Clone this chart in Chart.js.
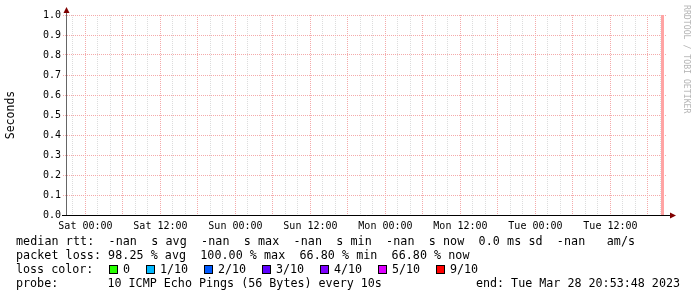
<!DOCTYPE html>
<html>
<head>
<meta charset="utf-8">
<script src="https://cdn.jsdelivr.net/npm/chart.js@4.4.0/dist/chart.umd.min.js"></script>
<style>
    body { margin: 0; background: #fff; }
    #wrap { position: relative; width: 697px; height: 297px; overflow: hidden; font-family: "DejaVu Sans Mono", monospace; color: #000; }
    #chart { position: absolute; left: 0; top: 0; }
    .line { position: absolute; left: 16px; font-size: 11.7px; line-height: 14px; white-space: pre; }
    .box { position: absolute; top: 265px; width: 9px; height: 9px; border: 1px solid #000; box-sizing: border-box; }
    .lbl { position: absolute; top: 262px; font-size: 11.7px; line-height: 14px; white-space: pre; }
    #end { position: absolute; right: 17px; top: 276px; font-size: 11.7px; line-height: 14px; white-space: pre; }
    #mark { position: absolute; left: 692px; top: 5px; font-size: 8.2px; line-height: 10px; color: #b4b4b4; white-space: pre; transform-origin: 0 0; transform: rotate(90deg); }
</style>
</head>
<body>
<div id="wrap">
    <canvas id="chart" width="697" height="297"></canvas>
    <div class="line" style="top:234px; letter-spacing:0.08px">median rtt:  -nan  s avg  -nan  s max  -nan  s min  -nan  s now  0.0 ms sd  -nan   am/s</div>
    <div class="line" style="top:248px; letter-spacing:0.05px">packet loss: 98.25 % avg  100.00 % max  66.80 % min  66.80 % now</div>
    <div class="line" style="top:262px">loss color:</div>
    <div id="loss"></div>
    <div class="line" style="top:276px">probe:       10 ICMP Echo Pings (56 Bytes) every 10s</div>
    <div id="end">end: Tue Mar 28 20:53:48 2023</div>
    <div id="mark">RRDTOOL / TOBI OETIKER</div>
</div>
<script>
// hours relative to Sat 00:00
const startHour = -3.11;
const endHour = 92.89;

const xTickHours = [0, 12, 24, 36, 48, 60, 72, 84];
const xTickLabels = ["Sat 00:00", "Sat 12:00", "Sun 00:00", "Sun 12:00", "Mon 00:00", "Mon 12:00", "Tue 00:00", "Tue 12:00"];

// the only marked interval (unknown / lost pings)
const lossHours = [92.33];
const lossValues = [1.0];

const lossLabels = ["0", "1/10", "2/10", "3/10", "4/10", "5/10", "9/10"];
const lossColors = ["#26ff00", "#00b8ff", "#0059ff", "#5e00ff", "#7e00ff", "#dd00ff", "#ff0000"];
const lossBoxX = [109, 146, 204, 262, 320, 378, 436];

// legend boxes
const lossDiv = document.getElementById("loss");
for (let i = 0; i < lossLabels.length; i++) {
    const b = document.createElement("div");
    b.className = "box";
    b.style.left = lossBoxX[i] + "px";
    b.style.background = lossColors[i];
    lossDiv.appendChild(b);

    const t = document.createElement("div");
    t.className = "lbl";
    t.style.left = (lossBoxX[i] + 14) + "px";
    t.textContent = lossLabels[i];
    lossDiv.appendChild(t);
}

const lossData = [];
for (let i = 0; i < lossHours.length; i++) {
    lossData.push({ x: lossHours[i], y: 0 });
    lossData.push({ x: lossHours[i], y: lossValues[i] });
}

const monoFont = { family: "DejaVu Sans Mono", size: 10 };

// axis extensions and arrows like rrdtool
const arrows = {
    id: "arrows",
    afterDraw(chart) {
        const ctx = chart.ctx;
        const a = chart.chartArea;
        const x0 = Math.round(a.left) + 0.5;
        const y0 = Math.round(a.bottom) + 0.5;
        ctx.save();
        ctx.lineWidth = 1;
        ctx.strokeStyle = "#000";
        ctx.beginPath();
        ctx.moveTo(a.left - 4, y0);
        ctx.lineTo(a.right + 5, y0);
        ctx.stroke();
        ctx.strokeStyle = "#666";
        ctx.beginPath();
        ctx.moveTo(x0, a.top);
        ctx.lineTo(x0, a.top - 4);
        ctx.stroke();
        ctx.fillStyle = "#800000";
        ctx.beginPath();
        ctx.moveTo(x0, a.top - 8);
        ctx.lineTo(x0 - 3, a.top - 2);
        ctx.lineTo(x0 + 3, a.top - 2);
        ctx.closePath();
        ctx.fill();
        ctx.beginPath();
        ctx.moveTo(a.right + 10, y0);
        ctx.lineTo(a.right + 4, y0 - 3);
        ctx.lineTo(a.right + 4, y0 + 3);
        ctx.closePath();
        ctx.fill();
        ctx.restore();
    }
};

new Chart(document.getElementById("chart"), {
    type: "line",
    data: {
        datasets: [
            {
                label: "loss",
                data: lossData,
                borderColor: "#ffa4a4",
                borderWidth: 3,
                pointRadius: 0,
                fill: false
            }
        ]
    },
    options: {
        responsive: false,
        animation: false,
        layout: {
            padding: { left: 0, top: 15, right: 31, bottom: 62 }
        },
        plugins: {
            legend: { display: false },
            tooltip: { enabled: false }
        },
        scales: {
            x: {
                type: "linear",
                min: startHour,
                max: endHour,
                afterFit: function (scale) { scale.height = 20; },
                // grid every 2 hours, starting at the first even hour
                afterBuildTicks: function (scale) {
                    const ticks = [];
                    for (let h = Math.ceil(startHour / 2) * 2; h <= endHour; h += 2) {
                        ticks.push({ value: h });
                    }
                    scale.ticks = ticks;
                },
                border: { display: true, color: "#000", width: 1, dash: [1, 1] },
                grid: {
                    drawTicks: false,
                    color: function (ctx) {
                        return ctx.tick && ctx.tick.value % 6 === 0 ? "#f4aaaa" : "#dcdcdc";
                    }
                },
                ticks: {
                    autoSkip: false,
                    maxRotation: 0,
                    padding: 5,
                    color: "#000",
                    font: monoFont,
                    callback: function (value) {
                        const i = xTickHours.indexOf(value);
                        return i >= 0 ? xTickLabels[i] : "";
                    }
                }
            },
            y: {
                min: 0,
                max: 1,
                afterFit: function (scale) { scale.width = 66; },
                border: { display: true, color: "#666", width: 1, dash: [1, 1] },
                grid: {
                    color: "#f4aaaa",
                    tickLength: 3,
                    tickColor: "#f4aaaa",
                    tickBorderDash: [1, 1]
                },
                title: {
                    display: true,
                    text: "Seconds",
                    color: "#000",
                    padding: { top: 4, bottom: 0 },
                    font: { family: "DejaVu Sans Mono", size: 11.5 }
                },
                ticks: {
                    stepSize: 0.1,
                    padding: 2,
                    color: "#000",
                    font: monoFont,
                    callback: function (value) {
                        return value.toFixed(1);
                    }
                }
            }
        }
    },
    plugins: [arrows]
});
</script>
</body>
</html>
